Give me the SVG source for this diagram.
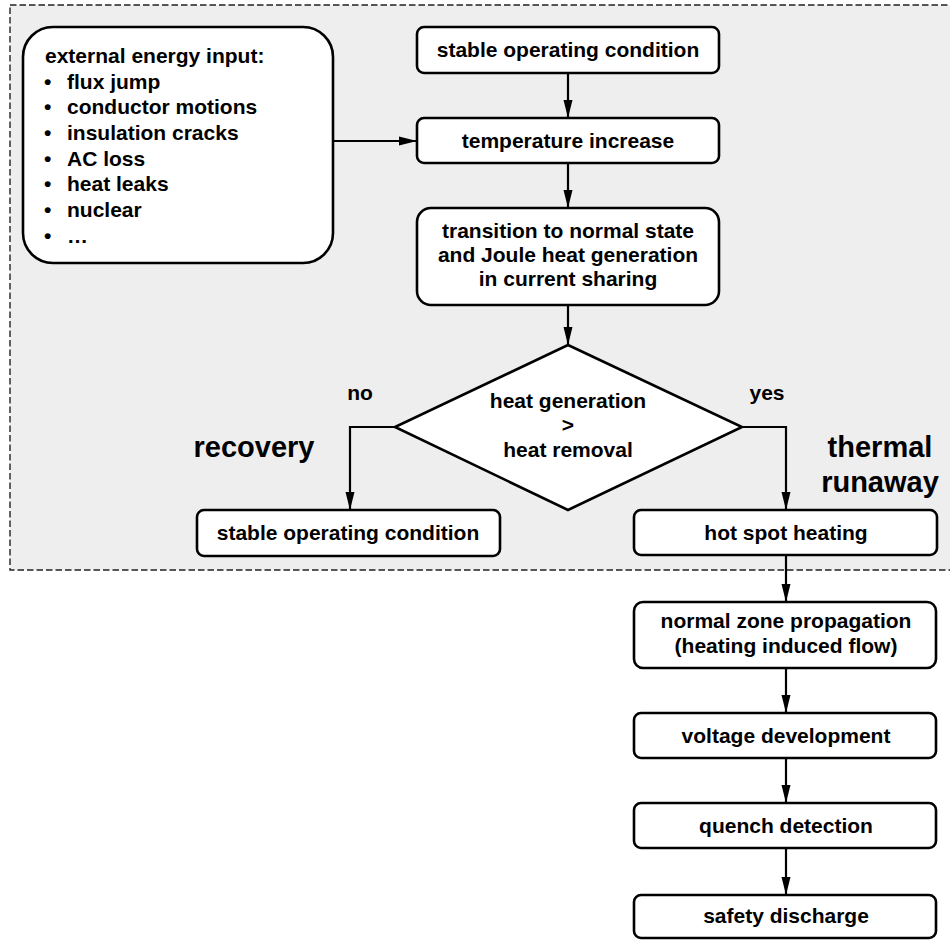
<svg xmlns="http://www.w3.org/2000/svg" width="950" height="940" viewBox="0 0 950 940">
  <defs>
    <marker id="arr" markerUnits="userSpaceOnUse" markerWidth="19" markerHeight="10" refX="18" refY="5" orient="auto">
      <path d="M0,0.5 L18,5 L0,9.5 z" fill="#000"/>
    </marker>
  </defs>
  <style>
    text { font-family: "Liberation Sans", Arial, sans-serif; font-weight: bold; fill: #000; }
    .t { font-size: 21px; text-anchor: middle; }
    .l { font-size: 21px; }
    .big { font-size: 29px; }
    .box { fill: #fff; stroke: #000; stroke-width: 2.6; }
    .con { fill: none; stroke: #000; stroke-width: 2.2; marker-end: url(#arr); }
  </style>
  <rect x="10" y="5" width="950" height="565" fill="#eeeeee" stroke="#222" stroke-width="1.4" stroke-dasharray="6.5 3"/>

  <g id="connectors">
    <path class="con" d="M568,73 V118"/>
    <path class="con" d="M568,163 V208"/>
    <path class="con" d="M333,141 H417"/>
    <path class="con" d="M568,305 V345"/>
    <path class="con" d="M395,427 H350 V510"/>
    <path class="con" d="M742,427 H786 V510"/>
    <path class="con" d="M786,555 V602"/>
    <path class="con" d="M786,668 V713"/>
    <path class="con" d="M786,758 V803"/>
    <path class="con" d="M786,848 V895"/>
  </g>

  <g id="external">
    <rect class="box" x="23" y="27" width="310" height="236" rx="30"/>
    <text class="l" x="45" y="63">external energy input:</text>
    <text class="l" x="44" y="89">•</text><text class="l" x="67" y="89">flux jump</text>
    <text class="l" x="44" y="114">•</text><text class="l" x="67" y="114">conductor motions</text>
    <text class="l" x="44" y="140">•</text><text class="l" x="67" y="140">insulation cracks</text>
    <text class="l" x="44" y="166">•</text><text class="l" x="67" y="166">AC loss</text>
    <text class="l" x="44" y="191">•</text><text class="l" x="67" y="191">heat leaks</text>
    <text class="l" x="44" y="217">•</text><text class="l" x="67" y="217">nuclear</text>
    <text class="l" x="44" y="243">•</text><text class="l" x="67" y="243">…</text>
  </g>

  <g id="stable-top">
    <rect class="box" x="417" y="27" width="302" height="46" rx="7"/>
    <text class="t" x="568" y="57">stable operating condition</text>
  </g>
  <g id="temperature">
    <rect class="box" x="417" y="118" width="302" height="45" rx="7"/>
    <text class="t" x="568" y="148">temperature increase</text>
  </g>
  <g id="transition">
    <rect class="box" x="417" y="208" width="302" height="97" rx="14"/>
    <text class="t" x="568" y="238">transition to normal state</text>
    <text class="t" x="568" y="262">and Joule heat generation</text>
    <text class="t" x="568" y="286">in current sharing</text>
  </g>
  <g id="decision">
    <polygon class="box" points="568,345 742,427 568,510 395,427"/>
    <text class="t" x="568" y="408">heat generation</text>
    <text class="t" x="568" y="432">&gt;</text>
    <text class="t" x="568" y="457">heat removal</text>
  </g>
  <g id="labels">
    <text class="l" x="360" y="400" text-anchor="middle">no</text>
    <text class="l" x="767" y="400" text-anchor="middle">yes</text>
    <text class="big" x="254" y="457" text-anchor="middle">recovery</text>
    <text class="big" x="880" y="457" text-anchor="middle">thermal</text>
    <text class="big" x="880" y="492" text-anchor="middle">runaway</text>
  </g>
  <g id="stable-recovery">
    <rect class="box" x="197" y="510" width="303" height="46" rx="7"/>
    <text class="t" x="348" y="540">stable operating condition</text>
  </g>
  <g id="hot-spot">
    <rect class="box" x="634" y="510" width="303" height="45" rx="7"/>
    <text class="t" x="786" y="540">hot spot heating</text>
  </g>
  <g id="normal-zone">
    <rect class="box" x="634" y="602" width="302" height="66" rx="9"/>
    <text class="t" x="786" y="628">normal zone propagation</text>
    <text class="t" x="786" y="653">(heating induced flow)</text>
  </g>
  <g id="voltage">
    <rect class="box" x="634" y="713" width="302" height="45" rx="7"/>
    <text class="t" x="786" y="743">voltage development</text>
  </g>
  <g id="quench">
    <rect class="box" x="634" y="803" width="302" height="45" rx="7"/>
    <text class="t" x="786" y="833">quench detection</text>
  </g>
  <g id="safety">
    <rect class="box" x="634" y="895" width="302" height="43" rx="7"/>
    <text class="t" x="786" y="923">safety discharge</text>
  </g>
</svg>
